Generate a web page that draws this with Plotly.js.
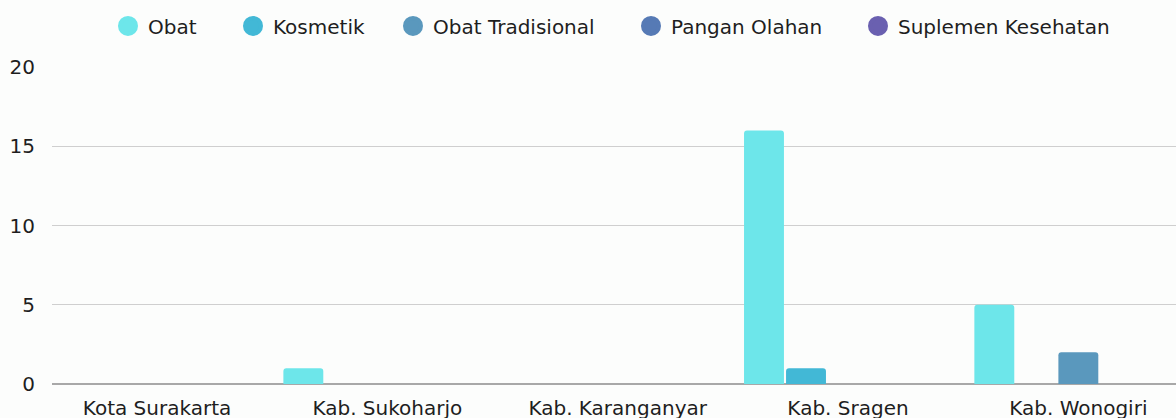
<!DOCTYPE html>
<html>
<head>
<meta charset="utf-8">
<script src="https://cdn.plot.ly/plotly-3.0.1.min.js"></script>
<style>
html,body{margin:0;padding:0;background:#fcfdfc;}
#chart{width:1176px;height:418px;}
</style>
</head>
<body>
<div id="chart"></div>
<script>
var categories = ["Kota Surakarta", "Kab. Sukoharjo", "Kab. Karanganyar", "Kab. Sragen", "Kab. Wonogiri"];
var seriesNames = ["Obat", "Kosmetik", "Obat Tradisional", "Pangan Olahan", "Suplemen Kesehatan"];
var obat = [0, 1, 0, 16, 5];
var kosmetik = [0, 0, 0, 1, 0];
var obatTradisional = [0, 0, 0, 0, 2];
var panganOlahan = [0, 0, 0, 0, 0];
var suplemenKesehatan = [0, 0, 0, 0, 0];
var colors = ["#6de6ea", "#42b8d6", "#5a98bd", "#567ab5", "#6a60b0"];

var allSeries = [obat, kosmetik, obatTradisional, panganOlahan, suplemenKesehatan];
var legendLeft = [108, 233, 393, 631, 858];
var legendIds = ['legend', 'legend2', 'legend3', 'legend4', 'legend5'];
var traces = [];
allSeries.forEach(function(vals, i){
  traces.push({
    type: 'bar', x: categories, y: vals, name: seriesNames[i],
    marker: {color: colors[i]}, showlegend: false, hoverinfo: 'y'
  });
});
allSeries.forEach(function(vals, i){
  traces.push({
    type: 'scatter', mode: 'markers', x: [null], y: [null], name: seriesNames[i],
    marker: {color: colors[i], size: 16, symbol: 'circle', line: {color: colors[i], width: 4}},
    showlegend: true, legend: legendIds[i]
  });
});

var font = {family: '"DejaVu Sans", sans-serif', size: 20, color: '#1e1e1e'};
var layout = {
  width: 1176, height: 418,
  paper_bgcolor: '#fcfdfc', plot_bgcolor: '#fcfdfc',
  font: font,
  margin: {l: 52, r: 0, t: 67, b: 34},
  barmode: 'group', bargap: 0.088, bargroupgap: 0.05, barcornerradius: 3,
  showlegend: true,
  xaxis: {type: 'category', range: [-0.456, 4.424], showgrid: false, zeroline: false,
    showline: false, ticks: '', ticklabelstandoff: 10, tickfont: font, fixedrange: true},
  yaxis: {range: [0, 20], dtick: 5, showgrid: true, gridcolor: '#cfcfcf', gridwidth: 1,
    zeroline: true, zerolinecolor: '#a8a8a8', zerolinewidth: 1.5, showline: false,
    ticks: '', ticklabelstandoff: 16, tickfont: font, fixedrange: true}
};
legendIds.forEach(function(id, i){
  layout[id] = {orientation: 'h', x: legendLeft[i] / 1176, xanchor: 'left', xref: 'container',
    y: 0.938, yanchor: 'middle', yref: 'container', font: font, itemclick: false,
    bgcolor: 'rgba(0,0,0,0)'};
});
Plotly.newPlot('chart', traces, layout, {displayModeBar: false, staticPlot: true});
</script>
</body>
</html>
